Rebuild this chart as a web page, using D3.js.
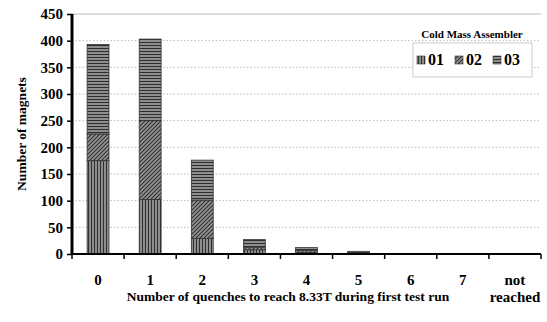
<!DOCTYPE html>
<html>
<head>
<meta charset="utf-8">
<script src="https://cdn.jsdelivr.net/npm/d3@7"></script>
<style>
  body { margin: 0; background: #fff; }
  svg text { font-family: "Liberation Serif", "Times New Roman", serif !important; font-weight: bold; }
</style>
</head>
<body>
<div id="chart"></div>
<script>
// categories and series
var categories = ["0", "1", "2", "3", "4", "5", "6", "7", "not reached"];
var cma01 = [175, 102, 29, 8, 3, 1, 0, 0, 1];
var cma02 = [50, 148, 72, 5, 4, 1, 0, 1, 0];
var cma03 = [168, 153, 75, 14, 5, 3, 1, 0, 0];
var seriesNames = ["01", "02", "03"];
var yTicks = [0, 50, 100, 150, 200, 250, 300, 350, 400, 450];

var W = 547, H = 322;
var margin = { top: 14, right: 6, bottom: 68, left: 72 };
var w = W - margin.left - margin.right;
var h = H - margin.top - margin.bottom;

var data = categories.map(function (c, i) {
  return { c: c, "01": cma01[i], "02": cma02[i], "03": cma03[i] };
});
var series = d3.stack().keys(seriesNames)(data);

var x = d3.scaleBand().domain(categories).range([0, w]).paddingInner(0.58).paddingOuter(0.29);
var xEdge = d3.scaleLinear().domain([0, categories.length]).range([0, w]);
var y = d3.scaleLinear().domain([0, 450]).range([h, 0]);

var svg = d3.select("#chart").append("svg").attr("width", W).attr("height", H)
  .attr("font-family", "Liberation Serif");
var defs = svg.append("defs");

// hatch patterns: vertical, diagonal, horizontal
function hatch(id, size, path) {
  var p = defs.append("pattern").attr("id", id).attr("patternUnits", "userSpaceOnUse")
    .attr("width", size).attr("height", size);
  p.append("rect").attr("width", size).attr("height", size).attr("fill", "#939393");
  p.append("path").attr("d", path).attr("stroke", "#2e2e2e").attr("stroke-width", 1.1);
}
hatch("p01", 3, "M1.5,0V3");
hatch("p02", 4, "M-1,1L1,-1M0,4L4,0M3,5L5,3");
hatch("p03", 3, "M0,1.5H3");
var fills = { "01": "url(#p01)", "02": "url(#p02)", "03": "url(#p03)" };

var g = svg.append("g").attr("transform", "translate(" + margin.left + "," + margin.top + ")");

// grid
g.selectAll("line.grid").data(yTicks.slice(1)).enter().append("line")
  .attr("x1", 0).attr("x2", w)
  .attr("y1", function (d) { return y(d); }).attr("y2", function (d) { return y(d); })
  .attr("stroke", "#bbb").attr("stroke-width", 1)
  .attr("stroke-dasharray", function (d) { return d === 450 ? null : "1.5,2"; });

// bars
g.selectAll("g.series").data(series).enter().append("g")
  .attr("fill", function (d) { return fills[d.key]; })
  .selectAll("rect").data(function (d) { return d; }).enter().append("rect")
  .filter(function (d) { return d[1] - d[0] > 0; })
  .attr("x", function (d) { return x(d.data.c); })
  .attr("width", x.bandwidth())
  .attr("y", function (d) { return y(d[1]); })
  .attr("height", function (d) { return y(d[0]) - y(d[1]); })
  .attr("stroke", "#333").attr("stroke-width", 0.8);

// y axis
var yAxis = g.append("g").call(d3.axisLeft(y).tickValues(yTicks).tickSize(5).tickPadding(4));
yAxis.attr("font-family", null);
yAxis.select(".domain").attr("stroke-width", 3).attr("d", "M0," + (h + 1) + "V0");
yAxis.selectAll(".tick line").attr("stroke-width", 1.5);
yAxis.selectAll("text").attr("font-size", 15).attr("fill", "#000");

// x axis
var xa = g.append("g").attr("transform", "translate(0," + h + ")");
xa.append("line").attr("x1", 0).attr("x2", w).attr("stroke", "#000").attr("stroke-width", 2);
xa.selectAll("line.tick").data(d3.range(categories.length + 1)).enter().append("line")
  .attr("x1", function (d) { return xEdge(d); }).attr("x2", function (d) { return xEdge(d); })
  .attr("y1", 0).attr("y2", 5).attr("stroke", "#000").attr("stroke-width", 1.5);
var xl = xa.selectAll("text.lab").data(categories).enter().append("text")
  .attr("text-anchor", "middle").attr("font-size", 15)
  .attr("transform", function (d) { return "translate(" + (x(d) + x.bandwidth() / 2) + ",31)"; });
xl.selectAll("tspan").data(function (d) { return d.split(" "); }).enter().append("tspan")
  .attr("x", 0).attr("dy", function (d, i) { return i ? "1.15em" : 0; })
  .text(function (d) { return d; });

// axis titles
svg.append("text").attr("x", 288).attr("y", 301).attr("text-anchor", "middle")
  .attr("font-size", 13.5).text("Number of quenches to reach 8.33T during first test run");
svg.append("text").attr("transform", "translate(26," + (margin.top + h / 2) + ") rotate(-90)")
  .attr("text-anchor", "middle").attr("font-size", 13.5).text("Number of magnets");

// legend
svg.append("text").attr("x", 472).attr("y", 38).attr("text-anchor", "middle")
  .attr("font-size", 11).text("Cold Mass Assembler");
var lg = svg.append("g").attr("transform", "translate(413,43)");
lg.append("rect").attr("width", 119).attr("height", 34).attr("fill", "#fff")
  .attr("stroke", "#ccc").attr("stroke-width", 1);
var li = lg.selectAll("g.item").data(seriesNames).enter().append("g")
  .attr("transform", function (d, i) { return "translate(" + (4 + i * 38) + ",0)"; });
li.append("rect").attr("y", 13).attr("width", 8).attr("height", 8)
  .attr("fill", function (d) { return fills[d]; }).attr("stroke", "#333").attr("stroke-width", 0.6);
li.append("text").attr("x", 11).attr("y", 22).attr("font-size", 16).text(function (d) { return d; });
</script>
</body>
</html>
